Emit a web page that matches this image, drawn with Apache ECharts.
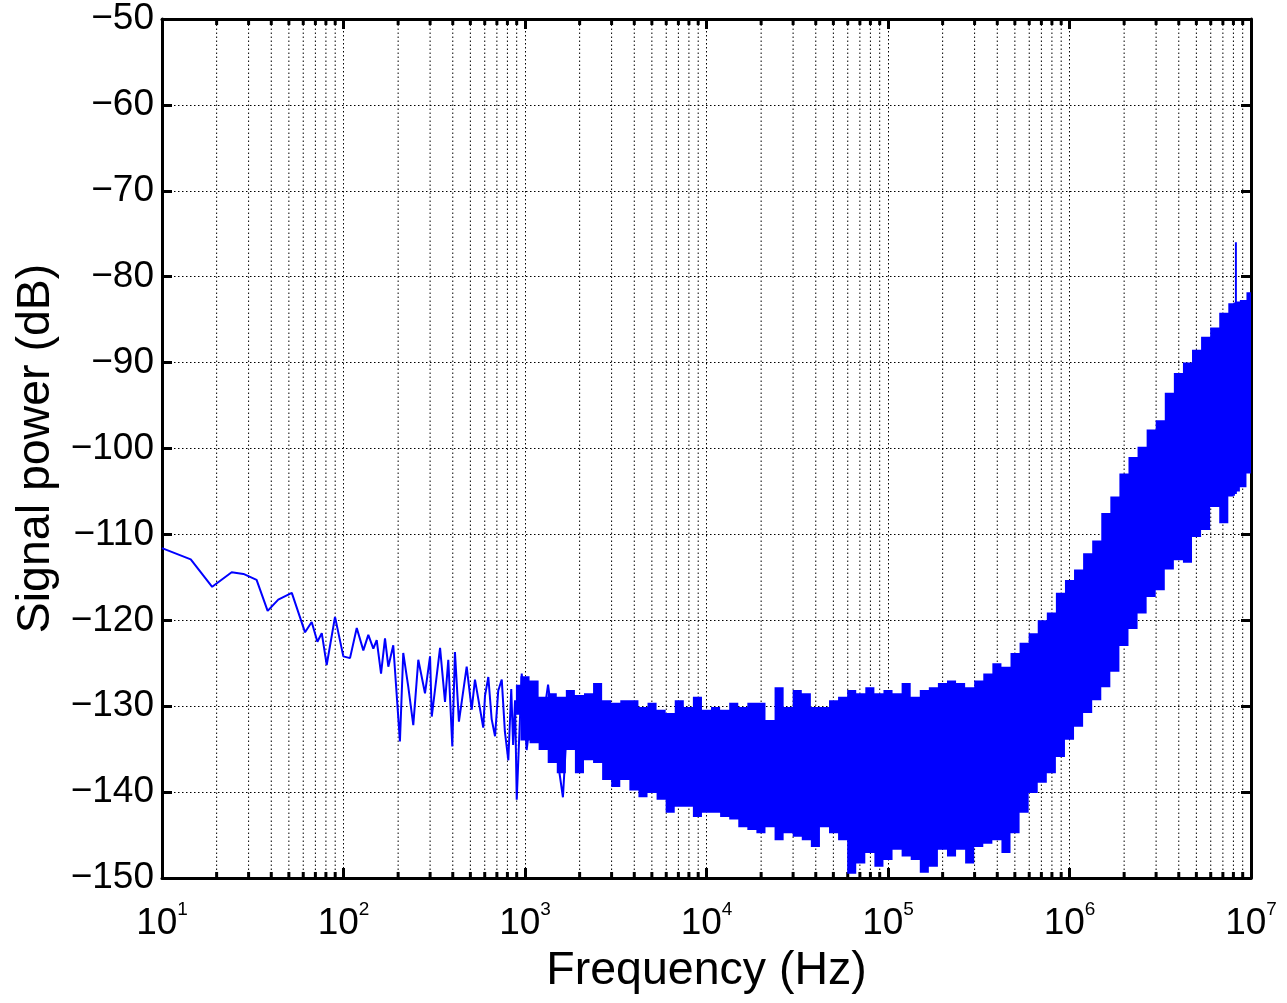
<!DOCTYPE html>
<html>
<head>
<meta charset="utf-8">
<title>Signal power spectrum</title>
<script src="https://cdn.jsdelivr.net/npm/echarts@6/dist/echarts.min.js"></script>
<style>
    html, body { margin: 0; padding: 0; background: #fff; }
    #chart { width: 1287px; height: 1003px; }
</style>
</head>
<body>
<div id="chart"></div>
<script>
// --- values ---

// single trace at the low end (Hz, dB)
const traceFreq = [10, 14.4, 18.9, 24.2, 28.1, 33.2, 38.2, 43.7, 51.9, 61.4, 66.8, 71.8, 75.9, 80.8, 89.8,
    99.8, 108.6, 118.3, 128.6, 137, 146, 152.4, 161, 169.3, 176.6, 188, 204.6, 213.4, 227.3, 242.4,
    258.3, 281.2, 299.8, 306.4, 340.4, 362.5, 377.9, 397.6, 411.2, 432.5, 477.2, 508.5, 530, 588.8,
    602, 628, 655, 683.8, 712, 744.6, 775, 809.4, 840, 860, 881.5, 900.5, 959.5, 1021, 1122, 1211, 1340, 1483, 1618, 1726];
const traceDb = [-111.6, -112.9, -116.1, -114.4, -114.6, -115.3, -118.9, -117.6, -116.8, -121.4, -120.2, -122.5, -121.5, -125.2, -119.6,
    -124.2, -124.4, -120.9, -123.5, -121.7, -123.3, -122.3, -126.2, -122.1, -125.4, -122.9, -134.1, -123.8, -127.7, -132.2,
    -124.6, -128.5, -124.2, -131.2, -123.2, -129.5, -124.6, -134.7, -123.7, -131.8, -125.4, -130.4, -126.9, -132.5,
    -128.8, -126.6, -131.5, -133.5, -128.2, -126.9, -133.0, -136.3, -128.0, -134.5, -129.3, -140.9, -126.2, -135.1, -128, -134, -127.5, -135, -140.6, -130];

// dense noise band: lower / upper edge (Hz, dB)
const bandFreq = [891, 1000, 1122, 1259, 1413, 1585, 1778, 1995, 2239, 2512, 2818, 3162, 3548, 3981, 4467, 5012, 5623, 6310, 7079, 7943, 8913,
    10000, 11220, 12590, 14130, 15850, 17780, 19950, 22390, 25120, 28180, 31620, 35480, 39810, 44670, 50120, 56230, 63100, 70790, 79430, 89130,
    100000, 112200, 125900, 141300, 158500, 177800, 199500, 223900, 251200, 281800, 316200, 354800, 398100, 446700, 501200, 562300, 631000, 707900, 794300, 891300,
    1e6, 1.122e6, 1.259e6, 1.413e6, 1.585e6, 1.778e6, 1.995e6, 2.239e6, 2.512e6, 2.818e6, 3.162e6, 3.548e6, 3.981e6, 4.467e6, 5.012e6, 5.623e6, 6.31e6, 7.079e6, 7.943e6,
    8.05e6, 8.26e6, 8.46e6, 8.913e6, 1e7];
const bandLow = [-131.0, -134.0, -134.3, -135.1, -136.6, -137.8, -135.1, -137.8, -136.3, -136.6, -138.6, -139.4, -138.6, -139.8, -140.6, -140.1, -140.9, -142.4, -141.7, -141.7, -142.9,
    -142.4, -142.4, -142.9, -143.2, -144.1, -144.4, -144.8, -144.1, -145.6, -144.8, -145.2, -145.6, -146.4, -144.1, -144.8, -145.6, -149.5, -148.3, -147.1, -148.7,
    -147.9, -146.7, -147.5, -147.9, -149.4, -148.7, -146.7, -147.5, -146.7, -148.3, -146.4, -146.0, -145.6, -147.1, -144.8, -142.4, -140.1, -138.9, -137.8, -135.9,
    -133.9, -132.4, -130.8, -129.3, -127.8, -126.0, -123.0, -121.0, -119.2, -117.3, -116.5, -114.1, -113.0, -113.3, -110.3, -109.5, -106.8, -108.7, -105.6,
    -105.5, -105.3, -105.0, -104.5, -102.9];
const bandHigh = [-127.5, -126.5, -127.0, -128.9, -128.5, -128.9, -128.1, -128.7, -128.5, -127.3, -129.3, -129.6, -129.3, -129.3, -130.1, -129.6, -130.4, -130.8, -129.3, -130.1, -128.9,
    -130.4, -130.1, -130.4, -129.6, -130.1, -129.6, -129.6, -131.6, -127.8, -130.1, -128.1, -128.5, -130.1, -130.1, -129.3, -128.9, -128.1, -128.5, -127.8, -128.5,
    -128.1, -128.5, -127.3, -128.9, -128.1, -127.8, -127.3, -127.0, -127.3, -127.8, -127.0, -126.2, -125.0, -125.4, -123.8, -122.6, -121.5, -120.0, -119.1, -116.8,
    -115.3, -114.1, -112.2, -110.7, -107.5, -105.6, -102.9, -101.0, -99.8, -97.8, -96.7, -93.5, -91.2, -90.0, -88.5, -87.0, -85.9, -84.2, -83.1,
    -83.0, -76.0, -82.9, -82.7, -81.8];

// minor log grid positions (2..9 of every decade)
const minorFreqs = [20, 30, 40, 50, 60, 70, 80, 90,
    200, 300, 400, 500, 600, 700, 800, 900,
    2000, 3000, 4000, 5000, 6000, 7000, 8000, 9000,
    20000, 30000, 40000, 50000, 60000, 70000, 80000, 90000,
    2e5, 3e5, 4e5, 5e5, 6e5, 7e5, 8e5, 9e5,
    2e6, 3e6, 4e6, 5e6, 6e6, 7e6, 8e6, 9e6];

const xMin = 10, xMax = 1e7;
const yMin = -150, yMax = -50, yStep = 10;

// --- styles ---
const BLUE = '#0000ff';
const FONT = '"Liberation Sans", Arial, Helvetica, sans-serif';
const dotted = { color: '#000', width: 1, type: [1.5, 2.5] };
const axisLine = { show: true, onZero: false, lineStyle: { color: '#000', width: 3 } };
const axisTick = { show: true, inside: true, length: 10, lineStyle: { color: '#000', width: 3 } };

const myChart = echarts.init(document.getElementById('chart'), null, { renderer: 'canvas' });

// staircase outline of the band (each reading holds until halfway to its neighbours)
const renderBand = (params, api) => {
    if (params.dataIndex !== 0) return null;
    const n = bandFreq.length;
    const xs = bandFreq.map(f => api.coord([f, yMin])[0]);
    const edges = [];
    for (let i = 0; i <= n; i++) {
        if (i === 0) edges.push(xs[0]);
        else if (i === n) edges.push(xs[n - 1]);
        else edges.push((xs[i - 1] + xs[i]) / 2);
    }
    const pts = [];
    for (let i = 0; i < n; i++) {
        const y = api.coord([bandFreq[i], bandHigh[i]])[1];
        pts.push([edges[i], y], [edges[i + 1], y]);
    }
    for (let i = n - 1; i >= 0; i--) {
        const y = api.coord([bandFreq[i], bandLow[i]])[1];
        pts.push([edges[i + 1], y], [edges[i], y]);
    }
    return { type: 'polygon', shape: { points: pts }, style: { fill: BLUE } };
};

const option = {
    animation: false,
    backgroundColor: '#fff',
    grid: { left: 162, right: 36, top: 19, bottom: 125, containLabel: false },
    xAxis: [{
        type: 'log', logBase: 10, min: xMin, max: xMax, position: 'bottom',
        axisLine, axisTick,
        axisLabel: {
            margin: 22,
            formatter: (v) => `{b|10}{e|${Math.round(Math.log10(v))}}`,
            rich: {
                b: { fontFamily: FONT, fontSize: 37, lineHeight: 48, color: '#000' },
                e: { fontFamily: FONT, fontSize: 19, lineHeight: 22, verticalAlign: 'top', color: '#000' }
            }
        },
        splitLine: { show: true, lineStyle: dotted },
        name: 'Frequency (Hz)', nameLocation: 'middle', nameGap: 63,
        nameTextStyle: { fontFamily: FONT, fontSize: 46.5, color: '#000' }
    }, {
        type: 'log', logBase: 10, min: xMin, max: xMax, position: 'top',
        axisLine, axisTick,
        axisLabel: { show: false }, splitLine: { show: false }
    }],
    yAxis: [{
        type: 'value', min: yMin, max: yMax, interval: yStep, position: 'left',
        axisLine, axisTick,
        axisLabel: {
            margin: 8, fontFamily: FONT, fontSize: 37, color: '#000',
            formatter: (v) => String(v).replace('-', '\u2212')
        },
        splitLine: { show: true, lineStyle: dotted },
        name: 'Signal power (dB)', nameLocation: 'middle', nameGap: 96,
        nameTextStyle: { fontFamily: FONT, fontSize: 46.5, color: '#000' }
    }, {
        type: 'value', min: yMin, max: yMax, interval: yStep, position: 'right',
        axisLine, axisTick,
        axisLabel: { show: false }, splitLine: { show: false }
    }],
    series: [
        // minor log grid lines + small inward ticks
        {
            type: 'custom', silent: true, z: 1, clip: false,
            data: minorFreqs.map(f => [f, yMin]),
            renderItem: (params, api) => {
                const f = api.value(0);
                const lo = api.coord([f, yMin]);
                const hi = api.coord([f, yMax]);
                return {
                    type: 'group',
                    children: [
                        { type: 'line', shape: { x1: lo[0], y1: lo[1], x2: hi[0], y2: hi[1] },
                          style: { stroke: '#000', lineWidth: 1, lineDash: [1.5, 2.5] } },
                        { type: 'line', shape: { x1: lo[0], y1: lo[1], x2: lo[0], y2: lo[1] - 6 },
                          style: { stroke: '#000', lineWidth: 3 } },
                        { type: 'line', shape: { x1: hi[0], y1: hi[1], x2: hi[0], y2: hi[1] + 6 },
                          style: { stroke: '#000', lineWidth: 3 } }
                    ]
                };
            }
        },
        // noise band
        {
            type: 'custom', silent: true, z: 2, clip: true,
            data: bandFreq.map((f, i) => [f, bandLow[i], bandHigh[i]]),
            encode: { x: 0, y: [1, 2] },
            renderItem: renderBand
        },
        // low-frequency trace
        {
            type: 'line', silent: true, z: 3,
            symbol: 'none',
            lineStyle: { color: BLUE, width: 2 },
            data: traceFreq.map((f, i) => [f, traceDb[i]])
        }
    ]
};

myChart.setOption(option);

window.addEventListener('resize', () => {
    myChart.resize();
});
</script>
</body>
</html>
